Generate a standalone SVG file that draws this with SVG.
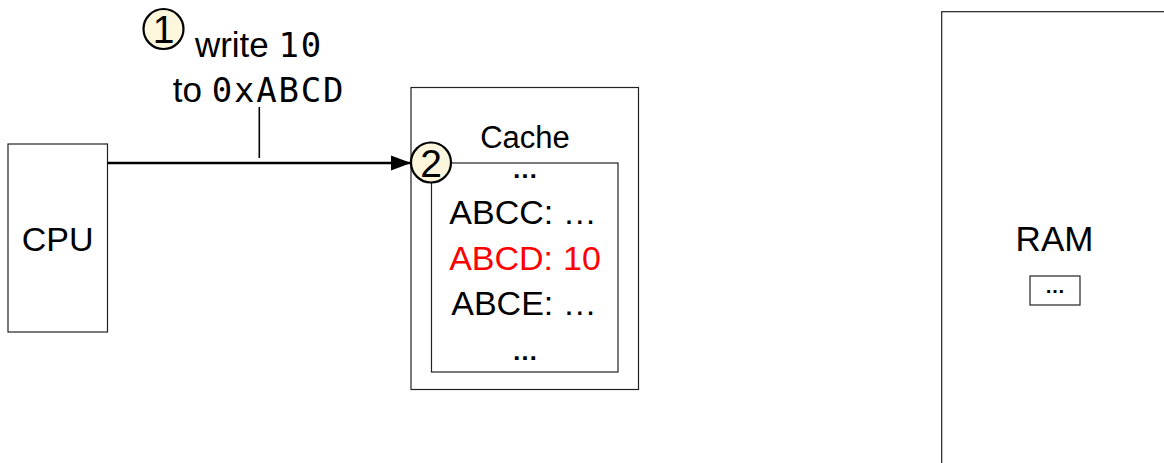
<svg xmlns="http://www.w3.org/2000/svg" width="1164" height="463" viewBox="0 0 1164 463">
<style>
.box{fill:#fff;stroke:#222;stroke-width:1.2}
.t{font-family:"Liberation Sans",Arial,sans-serif;fill:#000;text-anchor:middle}
.m{font-family:"DejaVu Sans Mono",monospace;font-size:34px;letter-spacing:1.8px}
.step{fill:#fcf7dc;stroke:#000;stroke-width:2.2}
.conn{stroke:#000;fill:none}
</style>
<defs>
<marker id="ah" markerWidth="20" markerHeight="16" refX="20" refY="8" orient="auto" markerUnits="userSpaceOnUse">
<path d="M0,0.5 L20,8 L0,15.5 Z" fill="#000"/>
</marker>
</defs>
<rect width="1164" height="463" fill="#fff"/>
<g id="cpu">
<rect class="box" x="8" y="144" width="99.5" height="188"/>
<text class="t" x="57.7" y="251" font-size="34">CPU</text>
</g>
<g id="cache">
<rect class="box" x="411" y="87.5" width="227.5" height="302"/>
<text class="t" x="525" y="148" font-size="31">Cache</text>
<rect class="box" x="431.5" y="163" width="186.5" height="209"/>
<text class="t" x="525" y="178" font-size="26" font-weight="bold">…</text>
<text class="t" x="523" y="224" font-size="34">ABCC: …</text>
<text class="t" x="525" y="270" font-size="34" style="fill:#ff0000">ABCD:<tspan dx="10">10</tspan></text>
<text class="t" x="524" y="315" font-size="34">ABCE: …</text>
<text class="t" x="525" y="360" font-size="26" font-weight="bold">…</text>
</g>
<g id="ram">
<rect class="box" x="941.7" y="11.7" width="300" height="500"/>
<text class="t" x="1054.5" y="251" font-size="35">RAM</text>
<rect class="box" x="1030" y="276" width="50" height="29"/>
<text class="t" x="1055" y="293" font-size="20" font-weight="bold">…</text>
</g>
<g id="connectors">
<line class="conn" x1="107.5" y1="163" x2="411" y2="163" stroke-width="2.6" marker-end="url(#ah)"/>
<line class="conn" x1="259.3" y1="107" x2="259.3" y2="158" stroke-width="1.6"/>
</g>
<g id="label">
<text class="t" x="259" y="57" font-size="35">write <tspan class="m">10</tspan></text>
<text class="t" x="259" y="102" font-size="35">to <tspan class="m">0xABCD</tspan></text>
</g>
<g id="step1">
<circle class="step" cx="163.5" cy="29" r="20"/>
<text class="t" x="163.5" y="43" font-size="39">1</text>
</g>
<g id="step2">
<circle class="step" cx="431" cy="162.5" r="20"/>
<text class="t" x="431" y="176.5" font-size="39">2</text>
</g>
</svg>
